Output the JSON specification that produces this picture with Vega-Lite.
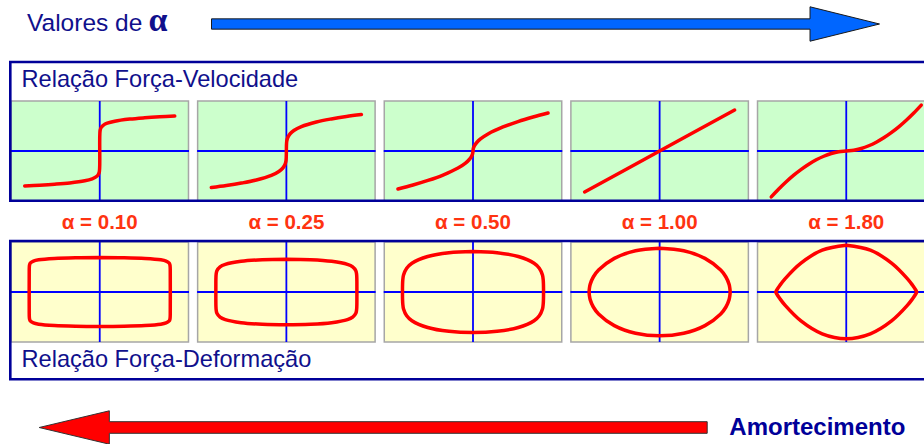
{
  "$schema": "https://vega.github.io/schema/vega-lite/v6.json",
  "width": 924,
  "height": 444,
  "padding": 0,
  "autosize": {"type": "none"},
  "background": "white",
  "config": {"view": {"stroke": null}},
  "datasets": {
    "panels": [
      {"a": "0.10", "r": "FV"}, {"a": "0.25", "r": "FV"}, {"a": "0.50", "r": "FV"}, {"a": "1.00", "r": "FV"}, {"a": "1.80", "r": "FV"},
      {"a": "0.10", "r": "FD"}, {"a": "0.25", "r": "FD"}, {"a": "0.50", "r": "FD"}, {"a": "1.00", "r": "FD"}, {"a": "1.80", "r": "FD"}
    ],
    "alphas": [
      {"a": "0.10", "lab": "α = 0.10"}, {"a": "0.25", "lab": "α = 0.25"}, {"a": "0.50", "lab": "α = 0.50"},
      {"a": "1.00", "lab": "α = 1.00"}, {"a": "1.80", "lab": "α = 1.80"}
    ],
    "axes": [
      {"a": "0.10", "r": "FV", "g": "h", "x": -1.19, "y": 0}, {"a": "0.10", "r": "FV", "g": "h", "x": 1.19, "y": 0}, {"a": "0.10", "r": "FV", "g": "v", "x": 0, "y": -1.22}, {"a": "0.10", "r": "FV", "g": "v", "x": 0, "y": 1.22},
      {"a": "0.25", "r": "FV", "g": "h", "x": -1.19, "y": 0}, {"a": "0.25", "r": "FV", "g": "h", "x": 1.19, "y": 0}, {"a": "0.25", "r": "FV", "g": "v", "x": 0, "y": -1.22}, {"a": "0.25", "r": "FV", "g": "v", "x": 0, "y": 1.22},
      {"a": "0.50", "r": "FV", "g": "h", "x": -1.19, "y": 0}, {"a": "0.50", "r": "FV", "g": "h", "x": 1.19, "y": 0}, {"a": "0.50", "r": "FV", "g": "v", "x": 0, "y": -1.22}, {"a": "0.50", "r": "FV", "g": "v", "x": 0, "y": 1.22},
      {"a": "1.00", "r": "FV", "g": "h", "x": -1.19, "y": 0}, {"a": "1.00", "r": "FV", "g": "h", "x": 1.19, "y": 0}, {"a": "1.00", "r": "FV", "g": "v", "x": 0, "y": -1.22}, {"a": "1.00", "r": "FV", "g": "v", "x": 0, "y": 1.22},
      {"a": "1.80", "r": "FV", "g": "h", "x": -1.19, "y": 0}, {"a": "1.80", "r": "FV", "g": "h", "x": 1.19, "y": 0}, {"a": "1.80", "r": "FV", "g": "v", "x": 0, "y": -1.22}, {"a": "1.80", "r": "FV", "g": "v", "x": 0, "y": 1.22},
      {"a": "0.10", "r": "FD", "g": "h", "x": -1.19, "y": 0}, {"a": "0.10", "r": "FD", "g": "h", "x": 1.19, "y": 0}, {"a": "0.10", "r": "FD", "g": "v", "x": 0, "y": -1.22}, {"a": "0.10", "r": "FD", "g": "v", "x": 0, "y": 1.22},
      {"a": "0.25", "r": "FD", "g": "h", "x": -1.19, "y": 0}, {"a": "0.25", "r": "FD", "g": "h", "x": 1.19, "y": 0}, {"a": "0.25", "r": "FD", "g": "v", "x": 0, "y": -1.22}, {"a": "0.25", "r": "FD", "g": "v", "x": 0, "y": 1.22},
      {"a": "0.50", "r": "FD", "g": "h", "x": -1.19, "y": 0}, {"a": "0.50", "r": "FD", "g": "h", "x": 1.19, "y": 0}, {"a": "0.50", "r": "FD", "g": "v", "x": 0, "y": -1.22}, {"a": "0.50", "r": "FD", "g": "v", "x": 0, "y": 1.22},
      {"a": "1.00", "r": "FD", "g": "h", "x": -1.19, "y": 0}, {"a": "1.00", "r": "FD", "g": "h", "x": 1.19, "y": 0}, {"a": "1.00", "r": "FD", "g": "v", "x": 0, "y": -1.22}, {"a": "1.00", "r": "FD", "g": "v", "x": 0, "y": 1.22},
      {"a": "1.80", "r": "FD", "g": "h", "x": -1.19, "y": 0}, {"a": "1.80", "r": "FD", "g": "h", "x": 1.19, "y": 0}, {"a": "1.80", "r": "FD", "g": "v", "x": 0, "y": -1.22}, {"a": "1.80", "r": "FD", "g": "v", "x": 0, "y": 1.22}
    ],
    "fv": [
      {"a": "0.10", "v": -1, "f": -0.854}, {"a": "0.10", "v": -0.8, "f": -0.835}, {"a": "0.10", "v": -0.6, "f": -0.811}, {"a": "0.10", "v": -0.4, "f": -0.779}, {"a": "0.10", "v": -0.2, "f": -0.727}, {"a": "0.10", "v": -0.1, "f": -0.678}, {"a": "0.10", "v": -0.05, "f": -0.633}, {"a": "0.10", "v": -0.02, "f": -0.577}, {"a": "0.10", "v": -0.005, "f": -0.503},
      {"a": "0.10", "v": 0.005, "f": 0.503}, {"a": "0.10", "v": 0.02, "f": 0.577}, {"a": "0.10", "v": 0.05, "f": 0.633}, {"a": "0.10", "v": 0.1, "f": 0.678}, {"a": "0.10", "v": 0.2, "f": 0.727}, {"a": "0.10", "v": 0.4, "f": 0.779}, {"a": "0.10", "v": 0.6, "f": 0.811}, {"a": "0.10", "v": 0.8, "f": 0.835}, {"a": "0.10", "v": 1, "f": 0.854},
      {"a": "0.25", "v": -1, "f": -0.89}, {"a": "0.25", "v": -0.8, "f": -0.842}, {"a": "0.25", "v": -0.6, "f": -0.783}, {"a": "0.25", "v": -0.4, "f": -0.708}, {"a": "0.25", "v": -0.2, "f": -0.595}, {"a": "0.25", "v": -0.1, "f": -0.5}, {"a": "0.25", "v": -0.05, "f": -0.421}, {"a": "0.25", "v": -0.02, "f": -0.335}, {"a": "0.25", "v": -0.005, "f": -0.237},
      {"a": "0.25", "v": 0.005, "f": 0.237}, {"a": "0.25", "v": 0.02, "f": 0.335}, {"a": "0.25", "v": 0.05, "f": 0.421}, {"a": "0.25", "v": 0.1, "f": 0.5}, {"a": "0.25", "v": 0.2, "f": 0.595}, {"a": "0.25", "v": 0.4, "f": 0.708}, {"a": "0.25", "v": 0.6, "f": 0.783}, {"a": "0.25", "v": 0.8, "f": 0.842}, {"a": "0.25", "v": 1, "f": 0.89},
      {"a": "0.50", "v": -1, "f": -0.927}, {"a": "0.50", "v": -0.8, "f": -0.829}, {"a": "0.50", "v": -0.6, "f": -0.718}, {"a": "0.50", "v": -0.4, "f": -0.586}, {"a": "0.50", "v": -0.2, "f": -0.415}, {"a": "0.50", "v": -0.1, "f": -0.293}, {"a": "0.50", "v": -0.05, "f": -0.207}, {"a": "0.50", "v": -0.02, "f": -0.131}, {"a": "0.50", "v": -0.005, "f": -0.066},
      {"a": "0.50", "v": 0.005, "f": 0.066}, {"a": "0.50", "v": 0.02, "f": 0.131}, {"a": "0.50", "v": 0.05, "f": 0.207}, {"a": "0.50", "v": 0.1, "f": 0.293}, {"a": "0.50", "v": 0.2, "f": 0.415}, {"a": "0.50", "v": 0.4, "f": 0.586}, {"a": "0.50", "v": 0.6, "f": 0.718}, {"a": "0.50", "v": 0.8, "f": 0.829}, {"a": "0.50", "v": 1, "f": 0.927},
      {"a": "1.00", "v": -1, "f": -1}, {"a": "1.00", "v": 0, "f": 0}, {"a": "1.00", "v": 1, "f": 1},
      {"a": "1.80", "v": -1, "f": -1.12}, {"a": "1.80", "v": -0.9, "f": -0.927}, {"a": "1.80", "v": -0.8, "f": -0.75}, {"a": "1.80", "v": -0.7, "f": -0.589}, {"a": "1.80", "v": -0.6, "f": -0.447}, {"a": "1.80", "v": -0.5, "f": -0.322}, {"a": "1.80", "v": -0.4, "f": -0.215}, {"a": "1.80", "v": -0.3, "f": -0.128}, {"a": "1.80", "v": -0.2, "f": -0.062}, {"a": "1.80", "v": -0.1, "f": -0.018},
      {"a": "1.80", "v": 0, "f": 0}, {"a": "1.80", "v": 0.1, "f": 0.018}, {"a": "1.80", "v": 0.2, "f": 0.062}, {"a": "1.80", "v": 0.3, "f": 0.128}, {"a": "1.80", "v": 0.4, "f": 0.215}, {"a": "1.80", "v": 0.5, "f": 0.322}, {"a": "1.80", "v": 0.6, "f": 0.447}, {"a": "1.80", "v": 0.7, "f": 0.589}, {"a": "1.80", "v": 0.8, "f": 0.75}, {"a": "1.80", "v": 0.9, "f": 0.927}, {"a": "1.80", "v": 1, "f": 1.12}
    ],
    "fd": [
      {"a": "0.10", "t": 0, "d": 0, "f": 0.841}, {"a": "0.10", "t": 20, "d": 0.321, "f": 0.836}, {"a": "0.10", "t": 40, "d": 0.604, "f": 0.819}, {"a": "0.10", "t": 60, "d": 0.814, "f": 0.785}, {"a": "0.10", "t": 70, "d": 0.884, "f": 0.755}, {"a": "0.10", "t": 80, "d": 0.926, "f": 0.706}, {"a": "0.10", "t": 85, "d": 0.936, "f": 0.659}, {"a": "0.10", "t": 88, "d": 0.939, "f": 0.601}, {"a": "0.10", "t": 89.5, "d": 0.94, "f": 0.523},
      {"a": "0.10", "t": 90.5, "d": 0.94, "f": -0.523}, {"a": "0.10", "t": 92, "d": 0.939, "f": -0.601}, {"a": "0.10", "t": 95, "d": 0.936, "f": -0.659}, {"a": "0.10", "t": 100, "d": 0.926, "f": -0.706}, {"a": "0.10", "t": 110, "d": 0.884, "f": -0.755}, {"a": "0.10", "t": 120, "d": 0.814, "f": -0.785}, {"a": "0.10", "t": 140, "d": 0.604, "f": -0.819}, {"a": "0.10", "t": 160, "d": 0.321, "f": -0.836}, {"a": "0.10", "t": 180, "d": 0, "f": -0.841},
      {"a": "0.10", "t": 200, "d": -0.321, "f": -0.836}, {"a": "0.10", "t": 220, "d": -0.604, "f": -0.819}, {"a": "0.10", "t": 240, "d": -0.814, "f": -0.785}, {"a": "0.10", "t": 250, "d": -0.884, "f": -0.755}, {"a": "0.10", "t": 260, "d": -0.926, "f": -0.706}, {"a": "0.10", "t": 265, "d": -0.936, "f": -0.659}, {"a": "0.10", "t": 268, "d": -0.939, "f": -0.601}, {"a": "0.10", "t": 269.5, "d": -0.94, "f": -0.523},
      {"a": "0.10", "t": 270.5, "d": -0.94, "f": 0.523}, {"a": "0.10", "t": 272, "d": -0.939, "f": 0.601}, {"a": "0.10", "t": 275, "d": -0.936, "f": 0.659}, {"a": "0.10", "t": 280, "d": -0.926, "f": 0.706}, {"a": "0.10", "t": 290, "d": -0.884, "f": 0.755}, {"a": "0.10", "t": 300, "d": -0.814, "f": 0.785}, {"a": "0.10", "t": 320, "d": -0.604, "f": 0.819}, {"a": "0.10", "t": 340, "d": -0.321, "f": 0.836}, {"a": "0.10", "t": 360, "d": 0, "f": 0.841},

      {"a": "0.25", "t": 0, "d": 0, "f": 0.8}, {"a": "0.25", "t": 20, "d": 0.321, "f": 0.788}, {"a": "0.25", "t": 40, "d": 0.604, "f": 0.748}, {"a": "0.25", "t": 60, "d": 0.814, "f": 0.673}, {"a": "0.25", "t": 70, "d": 0.884, "f": 0.612}, {"a": "0.25", "t": 80, "d": 0.926, "f": 0.517}, {"a": "0.25", "t": 85, "d": 0.936, "f": 0.435}, {"a": "0.25", "t": 88, "d": 0.939, "f": 0.346}, {"a": "0.25", "t": 89.5, "d": 0.94, "f": 0.245},
      {"a": "0.25", "t": 90.5, "d": 0.94, "f": -0.245}, {"a": "0.25", "t": 92, "d": 0.939, "f": -0.346}, {"a": "0.25", "t": 95, "d": 0.936, "f": -0.435}, {"a": "0.25", "t": 100, "d": 0.926, "f": -0.517}, {"a": "0.25", "t": 110, "d": 0.884, "f": -0.612}, {"a": "0.25", "t": 120, "d": 0.814, "f": -0.673}, {"a": "0.25", "t": 140, "d": 0.604, "f": -0.748}, {"a": "0.25", "t": 160, "d": 0.321, "f": -0.788}, {"a": "0.25", "t": 180, "d": 0, "f": -0.8},
      {"a": "0.25", "t": 200, "d": -0.321, "f": -0.788}, {"a": "0.25", "t": 220, "d": -0.604, "f": -0.748}, {"a": "0.25", "t": 240, "d": -0.814, "f": -0.673}, {"a": "0.25", "t": 250, "d": -0.884, "f": -0.612}, {"a": "0.25", "t": 260, "d": -0.926, "f": -0.517}, {"a": "0.25", "t": 265, "d": -0.936, "f": -0.435}, {"a": "0.25", "t": 268, "d": -0.939, "f": -0.346}, {"a": "0.25", "t": 269.5, "d": -0.94, "f": -0.245},
      {"a": "0.25", "t": 270.5, "d": -0.94, "f": 0.245}, {"a": "0.25", "t": 272, "d": -0.939, "f": 0.346}, {"a": "0.25", "t": 275, "d": -0.936, "f": 0.435}, {"a": "0.25", "t": 280, "d": -0.926, "f": 0.517}, {"a": "0.25", "t": 290, "d": -0.884, "f": 0.612}, {"a": "0.25", "t": 300, "d": -0.814, "f": 0.673}, {"a": "0.25", "t": 320, "d": -0.604, "f": 0.748}, {"a": "0.25", "t": 340, "d": -0.321, "f": 0.788}, {"a": "0.25", "t": 360, "d": 0, "f": 0.8},

      {"a": "0.50", "t": 0, "d": 0, "f": 0.99}, {"a": "0.50", "t": 20, "d": 0.321, "f": 0.96}, {"a": "0.50", "t": 40, "d": 0.604, "f": 0.866}, {"a": "0.50", "t": 60, "d": 0.814, "f": 0.7}, {"a": "0.50", "t": 70, "d": 0.884, "f": 0.579}, {"a": "0.50", "t": 80, "d": 0.926, "f": 0.413}, {"a": "0.50", "t": 85, "d": 0.936, "f": 0.292}, {"a": "0.50", "t": 88, "d": 0.939, "f": 0.185}, {"a": "0.50", "t": 89.5, "d": 0.94, "f": 0.092},
      {"a": "0.50", "t": 90.5, "d": 0.94, "f": -0.092}, {"a": "0.50", "t": 92, "d": 0.939, "f": -0.185}, {"a": "0.50", "t": 95, "d": 0.936, "f": -0.292}, {"a": "0.50", "t": 100, "d": 0.926, "f": -0.413}, {"a": "0.50", "t": 110, "d": 0.884, "f": -0.579}, {"a": "0.50", "t": 120, "d": 0.814, "f": -0.7}, {"a": "0.50", "t": 140, "d": 0.604, "f": -0.866}, {"a": "0.50", "t": 160, "d": 0.321, "f": -0.96}, {"a": "0.50", "t": 180, "d": 0, "f": -0.99},
      {"a": "0.50", "t": 200, "d": -0.321, "f": -0.96}, {"a": "0.50", "t": 220, "d": -0.604, "f": -0.866}, {"a": "0.50", "t": 240, "d": -0.814, "f": -0.7}, {"a": "0.50", "t": 250, "d": -0.884, "f": -0.579}, {"a": "0.50", "t": 260, "d": -0.926, "f": -0.413}, {"a": "0.50", "t": 265, "d": -0.936, "f": -0.292}, {"a": "0.50", "t": 268, "d": -0.939, "f": -0.185}, {"a": "0.50", "t": 269.5, "d": -0.94, "f": -0.092},
      {"a": "0.50", "t": 270.5, "d": -0.94, "f": 0.092}, {"a": "0.50", "t": 272, "d": -0.939, "f": 0.185}, {"a": "0.50", "t": 275, "d": -0.936, "f": 0.292}, {"a": "0.50", "t": 280, "d": -0.926, "f": 0.413}, {"a": "0.50", "t": 290, "d": -0.884, "f": 0.579}, {"a": "0.50", "t": 300, "d": -0.814, "f": 0.7}, {"a": "0.50", "t": 320, "d": -0.604, "f": 0.866}, {"a": "0.50", "t": 340, "d": -0.321, "f": 0.96}, {"a": "0.50", "t": 360, "d": 0, "f": 0.99},

      {"a": "1.00", "t": 0, "d": 0, "f": 1.07}, {"a": "1.00", "t": 20, "d": 0.321, "f": 1.006}, {"a": "1.00", "t": 40, "d": 0.604, "f": 0.82}, {"a": "1.00", "t": 60, "d": 0.814, "f": 0.535}, {"a": "1.00", "t": 70, "d": 0.884, "f": 0.366}, {"a": "1.00", "t": 80, "d": 0.926, "f": 0.186}, {"a": "1.00", "t": 85, "d": 0.936, "f": 0.093}, {"a": "1.00", "t": 90, "d": 0.94, "f": 0},
      {"a": "1.00", "t": 95, "d": 0.936, "f": -0.093}, {"a": "1.00", "t": 100, "d": 0.926, "f": -0.186}, {"a": "1.00", "t": 110, "d": 0.884, "f": -0.366}, {"a": "1.00", "t": 120, "d": 0.814, "f": -0.535}, {"a": "1.00", "t": 140, "d": 0.604, "f": -0.82}, {"a": "1.00", "t": 160, "d": 0.321, "f": -1.006}, {"a": "1.00", "t": 180, "d": 0, "f": -1.07},
      {"a": "1.00", "t": 200, "d": -0.321, "f": -1.006}, {"a": "1.00", "t": 220, "d": -0.604, "f": -0.82}, {"a": "1.00", "t": 240, "d": -0.814, "f": -0.535}, {"a": "1.00", "t": 250, "d": -0.884, "f": -0.366}, {"a": "1.00", "t": 260, "d": -0.926, "f": -0.186}, {"a": "1.00", "t": 265, "d": -0.936, "f": -0.093}, {"a": "1.00", "t": 270, "d": -0.94, "f": 0},
      {"a": "1.00", "t": 275, "d": -0.936, "f": 0.093}, {"a": "1.00", "t": 280, "d": -0.926, "f": 0.186}, {"a": "1.00", "t": 290, "d": -0.884, "f": 0.366}, {"a": "1.00", "t": 300, "d": -0.814, "f": 0.535}, {"a": "1.00", "t": 320, "d": -0.604, "f": 0.82}, {"a": "1.00", "t": 340, "d": -0.321, "f": 1.006}, {"a": "1.00", "t": 360, "d": 0, "f": 1.07},

      {"a": "1.80", "t": 0, "d": 0, "f": 1.14}, {"a": "1.80", "t": 20, "d": 0.321, "f": 1.02}, {"a": "1.80", "t": 40, "d": 0.604, "f": 0.705}, {"a": "1.80", "t": 60, "d": 0.814, "f": 0.327}, {"a": "1.80", "t": 70, "d": 0.884, "f": 0.165}, {"a": "1.80", "t": 80, "d": 0.926, "f": 0.049}, {"a": "1.80", "t": 85, "d": 0.936, "f": 0.014}, {"a": "1.80", "t": 90, "d": 0.94, "f": 0},
      {"a": "1.80", "t": 95, "d": 0.936, "f": -0.014}, {"a": "1.80", "t": 100, "d": 0.926, "f": -0.049}, {"a": "1.80", "t": 110, "d": 0.884, "f": -0.165}, {"a": "1.80", "t": 120, "d": 0.814, "f": -0.327}, {"a": "1.80", "t": 140, "d": 0.604, "f": -0.705}, {"a": "1.80", "t": 160, "d": 0.321, "f": -1.02}, {"a": "1.80", "t": 180, "d": 0, "f": -1.14},
      {"a": "1.80", "t": 200, "d": -0.321, "f": -1.02}, {"a": "1.80", "t": 220, "d": -0.604, "f": -0.705}, {"a": "1.80", "t": 240, "d": -0.814, "f": -0.327}, {"a": "1.80", "t": 250, "d": -0.884, "f": -0.165}, {"a": "1.80", "t": 260, "d": -0.926, "f": -0.049}, {"a": "1.80", "t": 265, "d": -0.936, "f": -0.014}, {"a": "1.80", "t": 270, "d": -0.94, "f": 0},
      {"a": "1.80", "t": 275, "d": -0.936, "f": 0.014}, {"a": "1.80", "t": 280, "d": -0.926, "f": 0.049}, {"a": "1.80", "t": 290, "d": -0.884, "f": 0.165}, {"a": "1.80", "t": 300, "d": -0.814, "f": 0.327}, {"a": "1.80", "t": 320, "d": -0.604, "f": 0.705}, {"a": "1.80", "t": 340, "d": -0.321, "f": 1.02}, {"a": "1.80", "t": 360, "d": 0, "f": 1.14}
    ]
  },
  "layer": [
    {
      "data": {"name": "panels"},
      "mark": {"type": "rect", "stroke": "#a6a6a6", "strokeWidth": 1.5},
      "encoding": {
        "x": {"field": "a", "type": "nominal", "axis": null, "scale": {"type": "band", "domain": ["0.10", "0.25", "0.50", "1.00", "1.80"], "range": [11, 935], "paddingInner": 0.049, "paddingOuter": 0}},
        "y": {"field": "r", "type": "nominal", "axis": null, "scale": {"type": "band", "domain": ["FV", "FD"], "range": [101, 342], "paddingInner": 0.2908, "paddingOuter": 0}},
        "fill": {"field": "r", "type": "nominal", "legend": null, "scale": {"domain": ["FV", "FD"], "range": ["#ccffcc", "#ffffcc"]}}
      }
    },
    {
      "layer": [
        {
          "data": {"name": "axes"},
          "mark": {"type": "line", "color": "#0000ff", "strokeWidth": 1.8},
          "encoding": {
            "x": {"field": "a", "type": "nominal", "axis": null, "bandPosition": 0, "scale": {"type": "band", "domain": ["0.10", "0.25", "0.50", "1.00", "1.80"], "range": [11, 935], "paddingInner": 0.049, "paddingOuter": 0}},
            "y": {"field": "r", "type": "nominal", "axis": null, "bandPosition": 0, "scale": {"type": "band", "domain": ["FV", "FD"], "range": [101, 342], "paddingInner": 0.2908, "paddingOuter": 0}},
            "xOffset": {"field": "x", "type": "quantitative", "scale": {"domain": [-1.183, 1.183], "nice": false, "zero": false}},
            "yOffset": {"field": "y", "type": "quantitative", "scale": {"domain": [-1.22, 1.22], "nice": false, "zero": false, "reverse": true}},
            "detail": [{"field": "a"}, {"field": "r"}, {"field": "g"}]
          }
        },
        {
          "data": {"name": "fv"},
          "mark": {"type": "line", "color": "#ff0000", "strokeWidth": 3.5, "strokeCap": "round", "strokeJoin": "round", "interpolate": "catmull-rom"},
          "encoding": {
            "x": {"field": "a", "type": "nominal", "axis": null, "bandPosition": 0, "scale": {"type": "band"}},
            "y": {"datum": "FV", "type": "nominal", "axis": null, "bandPosition": 0, "scale": {"type": "band"}},
            "xOffset": {"field": "v", "type": "quantitative"},
            "yOffset": {"field": "f", "type": "quantitative"},
            "detail": {"field": "a"},
            "order": {"field": "v", "type": "quantitative"}
          }
        },
        {
          "data": {"name": "fd"},
          "mark": {"type": "line", "color": "#ff0000", "strokeWidth": 3.5, "strokeCap": "round", "strokeJoin": "round", "interpolate": "catmull-rom"},
          "encoding": {
            "x": {"field": "a", "type": "nominal", "axis": null, "bandPosition": 0, "scale": {"type": "band"}},
            "y": {"datum": "FD", "type": "nominal", "axis": null, "bandPosition": 0, "scale": {"type": "band"}},
            "xOffset": {"field": "d", "type": "quantitative"},
            "yOffset": {"field": "f", "type": "quantitative"},
            "detail": {"field": "a"},
            "order": {"field": "t", "type": "quantitative"}
          }
        },
        {
          "data": {"name": "alphas"},
          "mark": {"type": "text", "font": "Liberation Sans", "fontWeight": "bold", "fontSize": 20.5, "color": "#ff3311", "baseline": "alphabetic", "dy": 7},
          "encoding": {
            "x": {"field": "a", "type": "nominal", "axis": null, "scale": {"type": "band"}},
            "text": {"field": "lab"}
          }
        }
      ]
    },
    {
      "data": {"values": [{}]},
      "layer": [
        {
          "mark": {"type": "text", "text": "Valores de", "align": "left", "baseline": "alphabetic", "font": "Liberation Sans", "fontSize": 24.5, "color": "#10108c"},
          "encoding": {
            "x": {"datum": 27, "type": "quantitative", "axis": null, "scale": {"domain": [0, 924], "nice": false, "zero": false}},
            "y": {"datum": 31, "type": "quantitative", "axis": null, "scale": {"domain": [0, 444], "nice": false, "zero": false, "reverse": true}}
          }
        },
        {
          "mark": {"type": "text", "text": "α", "align": "left", "baseline": "alphabetic", "font": "Liberation Serif", "fontWeight": "bold", "fontSize": 34, "color": "#10108c"},
          "encoding": {
            "x": {"datum": 148.5, "type": "quantitative", "axis": null},
            "y": {"datum": 31, "type": "quantitative", "axis": null}
          }
        },
        {
          "mark": {"type": "point", "shape": "M-1,-0.0154L0.792,-0.0154L0.792,-0.0515L1,0L0.792,0.0515L0.792,0.0154L-1,0.0154Z", "size": 446224, "filled": true, "fill": "#0066ff", "stroke": "#1a1a1a", "strokeWidth": 1, "opacity": 1},
          "encoding": {
            "x": {"datum": 545.5, "type": "quantitative", "axis": null},
            "y": {"datum": 24, "type": "quantitative", "axis": null}
          }
        },
        {
          "mark": {"type": "rect", "filled": false, "color": "#000099", "strokeWidth": 2.6},
          "encoding": {
            "x": {"datum": 10.3, "type": "quantitative", "axis": null},
            "x2": {"datum": 945},
            "y": {"datum": 62, "type": "quantitative", "axis": null},
            "y2": {"datum": 200.7}
          }
        },
        {
          "mark": {"type": "text", "text": "Relação Força-Velocidade", "align": "left", "baseline": "alphabetic", "font": "Liberation Sans", "fontSize": 23.6, "color": "#10108c"},
          "encoding": {
            "x": {"datum": 21.5, "type": "quantitative", "axis": null},
            "y": {"datum": 87.3, "type": "quantitative", "axis": null}
          }
        },
        {
          "mark": {"type": "rect", "filled": false, "color": "#000099", "strokeWidth": 2.6},
          "encoding": {
            "x": {"datum": 10.3, "type": "quantitative", "axis": null},
            "x2": {"datum": 945},
            "y": {"datum": 241, "type": "quantitative", "axis": null},
            "y2": {"datum": 379.3}
          }
        },
        {
          "mark": {"type": "text", "text": "Relação Força-Deformação", "align": "left", "baseline": "alphabetic", "font": "Liberation Sans", "fontSize": 23.6, "color": "#10108c"},
          "encoding": {
            "x": {"datum": 21.5, "type": "quantitative", "axis": null},
            "y": {"datum": 366.7, "type": "quantitative", "axis": null}
          }
        },
        {
          "mark": {"type": "point", "shape": "M1,-0.0174L-0.79,-0.0174L-0.79,-0.05L-1,0L-0.79,0.05L-0.79,0.0174L1,0.0174Z", "size": 446224, "filled": true, "fill": "#ff0000", "stroke": "#333333", "strokeWidth": 1, "opacity": 1},
          "encoding": {
            "x": {"datum": 373.2, "type": "quantitative", "axis": null},
            "y": {"datum": 427.5, "type": "quantitative", "axis": null}
          }
        },
        {
          "mark": {"type": "text", "text": "Amortecimento", "align": "left", "baseline": "alphabetic", "font": "Liberation Sans", "fontWeight": "bold", "fontSize": 24, "color": "#000099"},
          "encoding": {
            "x": {"datum": 729.3, "type": "quantitative", "axis": null},
            "y": {"datum": 435, "type": "quantitative", "axis": null}
          }
        }
      ]
    }
  ],
  "resolve": {"scale": {"x": "independent", "y": "independent", "xOffset": "independent", "yOffset": "independent"}}
}
